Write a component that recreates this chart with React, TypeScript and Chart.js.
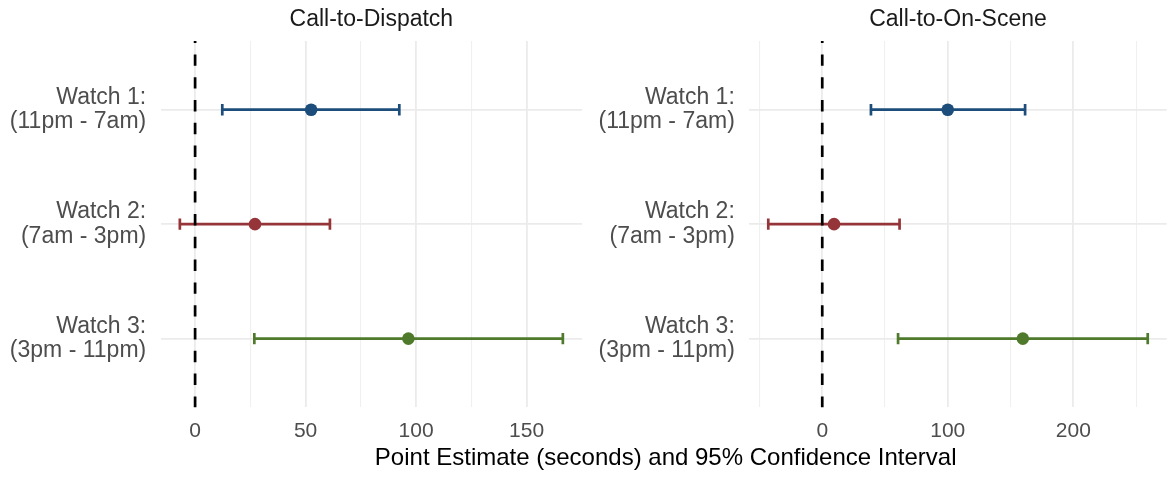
import React, { useEffect, useRef } from "react";
import { Chart, registerables } from "chart.js";

Chart.register(...registerables);

// ---------- data ----------
const watchLabels: string[][] = [
  ["Watch 1:", "(11pm - 7am)"],
  ["Watch 2:", "(7am - 3pm)"],
  ["Watch 3:", "(3pm - 11pm)"],
];
const watchPositions = [1, 2, 3];
const watchColors = ["#1d4d7a", "#963539", "#507a2b"];

const dispatchEstimate = [52.5, 27.1, 96.5];
const dispatchLower = [12.3, -6.9, 26.8];
const dispatchUpper = [92.4, 61.0, 166.4];
const dispatchTickLabels = [0, 50, 100, 150];
const dispatchMinorGrid = [25, 75, 125];

const sceneEstimate = [100.0, 9.4, 159.8];
const sceneLower = [38.8, -43.0, 60.4];
const sceneUpper = [161.6, 61.6, 259.3];
const sceneTickLabels = [0, 100, 200];
const sceneMinorGrid = [-50, 50, 150, 250];

const xAxisTitle = "Point Estimate (seconds) and 95% Confidence Interval";

// ---------- style ----------
const FONT = "'Liberation Sans', Arial, Helvetica, sans-serif";
const Y_MIN = 0.4;
const Y_MAX = 3.6;
const CAP_HALF = 0.05;

interface PanelProps {
  title: string;
  estimate: number[];
  lower: number[];
  upper: number[];
  tickLabels: number[];
  minorGrid: number[];
  left: number;
  width: number;
  yAxisWidth: number;
  padRight: number;
}

function Panel(p: PanelProps) {
  const ref = useRef<HTMLCanvasElement | null>(null);
  useEffect(() => {
    if (!ref.current) return;
    const lo = Math.min(...p.lower, 0);
    const hi = Math.max(...p.upper);
    const span = hi - lo;
    const xMin = lo - span * 0.05;
    const xMax = hi + span * 0.05;
    const gridValues = [...p.tickLabels, ...p.minorGrid].sort((a, b) => a - b);

    const datasets: any[] = [];
    // zero reference line (on top)
    datasets.push({
      type: "line",
      data: [
        { x: 0, y: Y_MIN },
        { x: 0, y: Y_MAX },
      ],
      borderColor: "#000000",
      borderWidth: 2.7,
      borderDash: [11.4, 11.4],
      borderDashOffset: 9.4,
      pointRadius: 0,
      fill: false,
      clip: false,
    });
    // points
    watchPositions.forEach((pos, i) => {
      datasets.push({
        type: "scatter",
        data: [{ x: p.estimate[i], y: pos }],
        backgroundColor: watchColors[i],
        borderWidth: 0,
        pointRadius: 6.3,
        pointHoverRadius: 6.3,
      });
    });
    // error bars
    watchPositions.forEach((pos, i) => {
      const common = {
        type: "line",
        borderColor: watchColors[i],
        borderWidth: 2.7,
        pointRadius: 0,
        fill: false,
        borderCapStyle: "butt",
      };
      datasets.push({
        ...common,
        data: [
          { x: p.lower[i], y: pos },
          { x: p.upper[i], y: pos },
        ],
      });
      datasets.push({
        ...common,
        data: [
          { x: p.lower[i], y: pos - CAP_HALF },
          { x: p.lower[i], y: pos + CAP_HALF },
        ],
      });
      datasets.push({
        ...common,
        data: [
          { x: p.upper[i], y: pos - CAP_HALF },
          { x: p.upper[i], y: pos + CAP_HALF },
        ],
      });
    });

    const chart = new Chart(ref.current, {
      type: "scatter",
      data: { datasets },
      options: {
        animation: false,
        responsive: false,
        events: [],
        layout: { padding: { left: 0, right: p.padRight, top: 0, bottom: 39.7 } },
        plugins: {
          legend: { display: false },
          tooltip: { enabled: false },
          title: {
            display: true,
            text: p.title,
            fullSize: false,
            color: "#1a1a1a",
            font: { family: FONT, size: 23, weight: "normal", lineHeight: 1.2 },
            padding: { top: 5.8, bottom: 7.6 },
          },
        },
        scales: {
          x: {
            type: "linear",
            min: xMin,
            max: xMax,
            afterBuildTicks: (scale: any) => {
              scale.ticks = gridValues.map((v) => ({ value: v }));
            },
            afterFit: (scale: any) => {
              scale.height = 30;
            },
            ticks: {
              autoSkip: false,
              maxRotation: 0,
              padding: 11.5,
              color: "#4d4d4d",
              font: { family: FONT, size: 21 },
              callback: (v: any) => (p.tickLabels.includes(Number(v)) ? String(v) : ""),
            },
            grid: {
              drawTicks: false,
              color: (ctx: any) =>
                p.tickLabels.includes(ctx.tick?.value) ? "#ebebeb" : "#f0f0f0",
              lineWidth: (ctx: any) => (p.tickLabels.includes(ctx.tick?.value) ? 1.8 : 1.1),
            },
            border: { display: false },
          },
          y: {
            type: "linear",
            min: Y_MIN,
            max: Y_MAX,
            reverse: true,
            afterBuildTicks: (scale: any) => {
              scale.ticks = watchPositions.map((v) => ({ value: v }));
            },
            afterFit: (scale: any) => {
              scale.width = p.yAxisWidth;
            },
            ticks: {
              autoSkip: false,
              padding: 14.5,
              color: "#4d4d4d",
              font: { family: FONT, size: 23, lineHeight: 1.05 },
              callback: (v: any) => watchLabels[watchPositions.indexOf(Number(v))] ?? "",
            },
            grid: {
              drawTicks: false,
              color: "#ebebeb",
              lineWidth: 1.8,
            },
            border: { display: false },
          },
        },
      },
    });
    return () => chart.destroy();
  }, []);

  return (
    <canvas
      ref={ref}
      width={p.width}
      height={477}
      style={{ position: "absolute", left: p.left, top: 0, width: p.width, height: 477 }}
    />
  );
}

export default function App() {
  return (
    <div
      style={{
        position: "absolute",
        left: 0,
        top: 0,
        width: 1173,
        height: 477,
        background: "#ffffff",
        overflow: "hidden",
      }}
    >
      <Panel
        title="Call-to-Dispatch"
        estimate={dispatchEstimate}
        lower={dispatchLower}
        upper={dispatchUpper}
        tickLabels={dispatchTickLabels}
        minorGrid={dispatchMinorGrid}
        left={0}
        width={590}
        yAxisWidth={160.7}
        padRight={8}
      />
      <Panel
        title="Call-to-On-Scene"
        estimate={sceneEstimate}
        lower={sceneLower}
        upper={sceneUpper}
        tickLabels={sceneTickLabels}
        minorGrid={sceneMinorGrid}
        left={590}
        width={583}
        yAxisWidth={159.3}
        padRight={2.3}
      />
      <div
        style={{
          position: "absolute",
          left: 160.7,
          width: 1010,
          top: 443.7,
          textAlign: "center",
          fontFamily: FONT,
          fontSize: 24,
          lineHeight: "25px",
          color: "#000000",
          whiteSpace: "nowrap",
        }}
      >
        {xAxisTitle}
      </div>
    </div>
  );
}
